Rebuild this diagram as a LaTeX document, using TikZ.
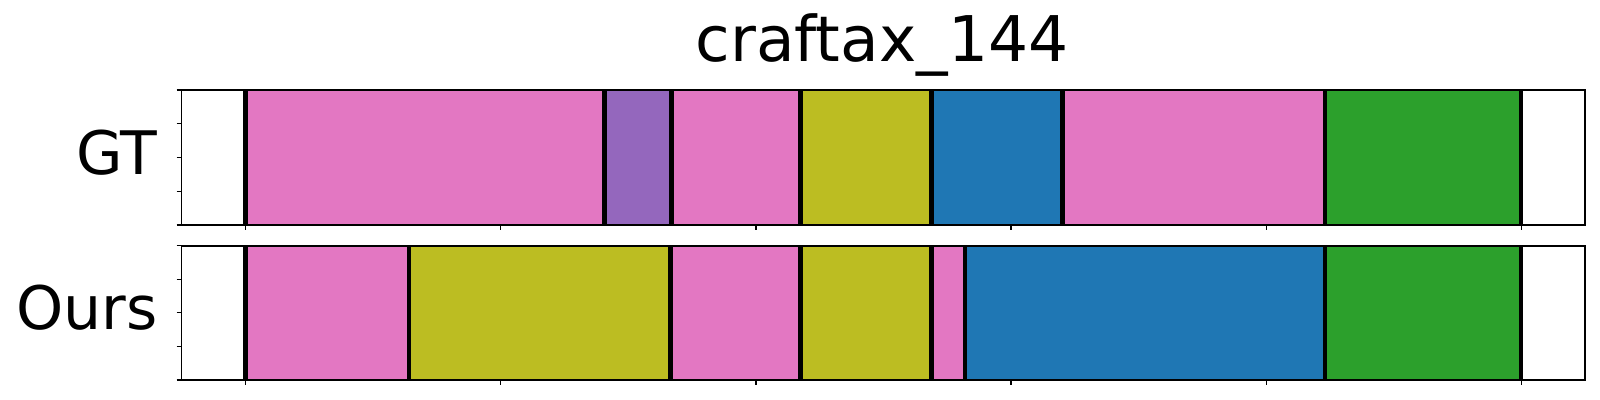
\documentclass[tikz,border=0pt]{standalone}
\usepackage{fontspec}
\setmainfont{DejaVu Sans}
\definecolor{tabpink}{HTML}{E377C2}
\definecolor{tabpurple}{HTML}{9467BD}
\definecolor{tabolive}{HTML}{BCBD22}
\definecolor{tabblue}{HTML}{1F77B4}
\definecolor{tabgreen}{HTML}{2CA02C}
\tikzset{>=latex}
\usetikzlibrary{positioning}

\begin{document}
\begin{tikzpicture}[x=0.5pt, y=-0.5pt,
    frame/.style={draw=black, line width=0.9pt},
    segline/.style={line width=2.3pt},
    tickmark/.style={line width=0.6pt},
    rowlabel/.style={anchor=base east, inner sep=0pt, font=\fontsize{30}{30}\selectfont}]
      \useasboundingbox (0,0) rectangle (1600,400);
      \node[anchor=base, inner sep=0pt, font=\fontsize{31.5}{31.5}\selectfont] (title) at (882,61.7) {craftax\_144};
      \node[rowlabel] (gt) at (158,175) {GT};
      \node[rowlabel] (ours) at (158,330) {Ours};
      % GT
      \foreach \a/\b/\c in {245.7/604.7/tabpink, 604.7/671.3/tabpurple, 671.3/800.7/tabpink, 800.7/931.7/tabolive, 931.7/1062.7/tabblue, 1062.7/1325/tabpink, 1325/1521/tabgreen}
        \fill[\c] (\a,90) rectangle (\b,225);
      \foreach \a in {245.7, 604.7, 671.3, 800.7, 931.7, 1062.7, 1325, 1521}
        \draw[segline] (\a,90) -- (\a,225);
      \draw[frame] (181.5,90) rectangle (1585.3,225);
      % Ours
      \foreach \a/\b/\c in {245.7/409/tabpink, 409/670.5/tabolive, 670.5/800.7/tabpink, 800.7/931.7/tabolive, 931.7/965/tabpink, 965/1325/tabblue, 1325/1521/tabgreen}
        \fill[\c] (\a,245.7) rectangle (\b,380);
      \foreach \a in {245.7, 409, 670.5, 800.7, 931.7, 965, 1325, 1521}
        \draw[segline] (\a,245.7) -- (\a,380);
      \draw[frame] (181.5,245.7) rectangle (1585.3,380);
      % ticks
      \foreach \y in {90, 123.75, 157.5, 191.25, 225, 245.7, 279.3, 312.9, 346.4, 380}
        \draw[tickmark] (176.5,\y) -- (181.5,\y);
      \foreach \k in {0,...,5} {
        \draw[tickmark] (245.7+255.1*\k,225) -- (245.7+255.1*\k,230.5);
        \draw[tickmark] (245.7+255.1*\k,380) -- (245.7+255.1*\k,385.5);
      }
\end{tikzpicture}
\end{document}
